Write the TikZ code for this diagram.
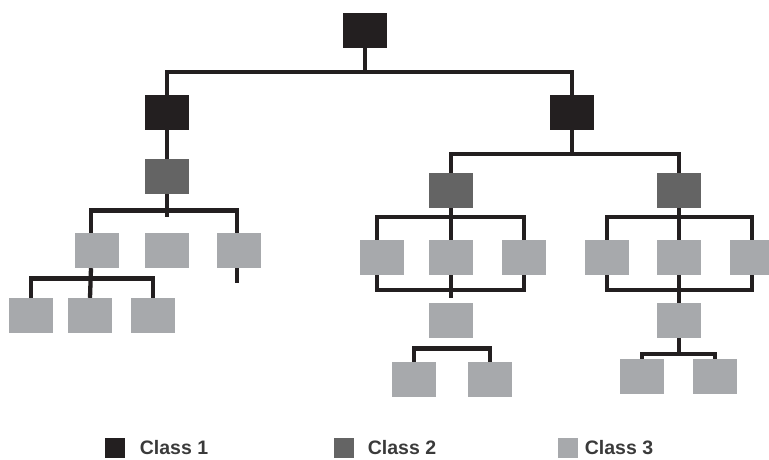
\documentclass[tikz,border=0pt]{standalone}
\usepackage{fontspec}
\setmainfont{Liberation Sans}
\usetikzlibrary{positioning}
\definecolor{clsone}{HTML}{231F20}
\definecolor{clstwo}{HTML}{646464}
\definecolor{clsthree}{HTML}{A7A9AC}
\definecolor{legtext}{HTML}{3A3A3A}

\begin{document}
\begin{tikzpicture}[x=1pt, y=-1pt,
  box/.style={rectangle, minimum width=44pt, minimum height=35pt,
    inner sep=0pt, draw=none},
  one/.style={box, fill=clsone}, two/.style={box, fill=clstwo},
  three/.style={box, fill=clsthree},
  wire/.style={draw=clsone, line width=4.3pt, line join=miter},
  legsq/.style={rectangle, minimum size=20pt, inner sep=0pt},
  legtxt/.style={inner sep=0pt, text=legtext,
    font=\fontsize{19.5}{20}\selectfont\bfseries}]
  \useasboundingbox (0,0) rectangle (769,459);
  % tree
  \node[one] (root) at (365,30.5) {};
  \node[one] (a) at (167,112.5) {};
  \node[one] (b) at (572,112.5) {};
  \node[two] (a2) at (167,176.5) {};
  \node[two] (b2l) at (451,190.5) {};
  \node[two] (b2r) at (679,190.5) {};
  \foreach \n/\x in {1/97, 2/167, 3/239}
    \node[three] (a3\n) at (\x,250.5) {};
  \foreach \n/\x in {1/31, 2/90, 3/153}
    \node[three] (a4\n) at (\x,315.5) {};
  \foreach \n/\x in {1/382, 2/451, 3/524}
    \node[three] (bl\n) at (\x,257.5) {};
  \foreach \n/\x in {1/607, 2/679, 3/752}
    \node[three] (br\n) at (\x,257.5) {};
  \node[three] (bl4) at (451,320.5) {};
  \node[three] (br4) at (679,320.5) {};
  \node[three] (bl5) at (414,379.5) {};
  \node[three] (bl6) at (490,379.5) {};
  \node[three] (br5) at (642,376.5) {};
  \node[three] (br6) at (715,376.5) {};

  \coordinate (j1) at (365,72);
  \coordinate (j2) at (167,210.5);
  \coordinate (j3) at (90,278.5);
  \coordinate (j4) at (572,154);
  \coordinate (j5) at (451,217);
  \coordinate (j6) at (451,290);
  \coordinate (j7) at (451,348.5);
  \coordinate (j8) at (679,217);
  \coordinate (j9) at (679,290);
  \coordinate (j10) at (679,354);
  \coordinate (s1) at (167,217);
  \coordinate (s2) at (237,283);
  \coordinate (s3) at (451,298);

  \draw[wire] (root) -- (j1);
  \draw[wire] (a) |- (j1) -| (b);
  \draw[wire] (a) -- (a2);
  \draw[wire] (a2) -- (s1);
  \draw[wire] ([xshift=-6]a31.north) |- (j2) -| ([xshift=-2]a33.north);
  \draw[wire] ([xshift=-2]a33.south) -- (s2);
  \draw[wire] ([xshift=-6]a31.south) -- (a42.north);
  \draw[wire] (a41.north) |- (j3) -| (a43.north);

  \draw[wire] (b) -- (j4);
  \draw[wire] (b2l) |- (j4) -| (b2r);
  \draw[wire] ([xshift=-5]bl1.north) |- (j5) -| (bl3.north);
  \draw[wire] (b2l) -- (bl2);
  \draw[wire] ([xshift=-5]bl1.south) |- (j6) -| (bl3.south);
  \draw[wire] (bl2) -- (s3);
  \draw[wire] (bl5.north) |- (j7) -| (bl6.north);

  \draw[wire] (br1.north) |- (j8) -| (br3.north);
  \draw[wire] (b2r) -- (br2);
  \draw[wire] (br1.south) |- (j9) -| (br3.south);
  \draw[wire] (br2) -- (br4);
  \draw[wire] (br4) -- (j10);
  \draw[wire] (br5.north) |- (j10) -| (br6.north);

  % legend
  \node[legsq, fill=clsone] (k1) at (114.5,448) {};
  \node[legsq, fill=clstwo] (k2) at (343.5,448) {};
  \node[legsq, fill=clsthree] (k3) at (567.5,448) {};
  \node[legtxt, right=15pt of k1] (t1) {Class 1};
  \node[legtxt, right=14pt of k2] (t2) {Class 2};
  \node[legtxt, right=7pt of k3] (t3) {Class 3};
\end{tikzpicture}
\end{document}
